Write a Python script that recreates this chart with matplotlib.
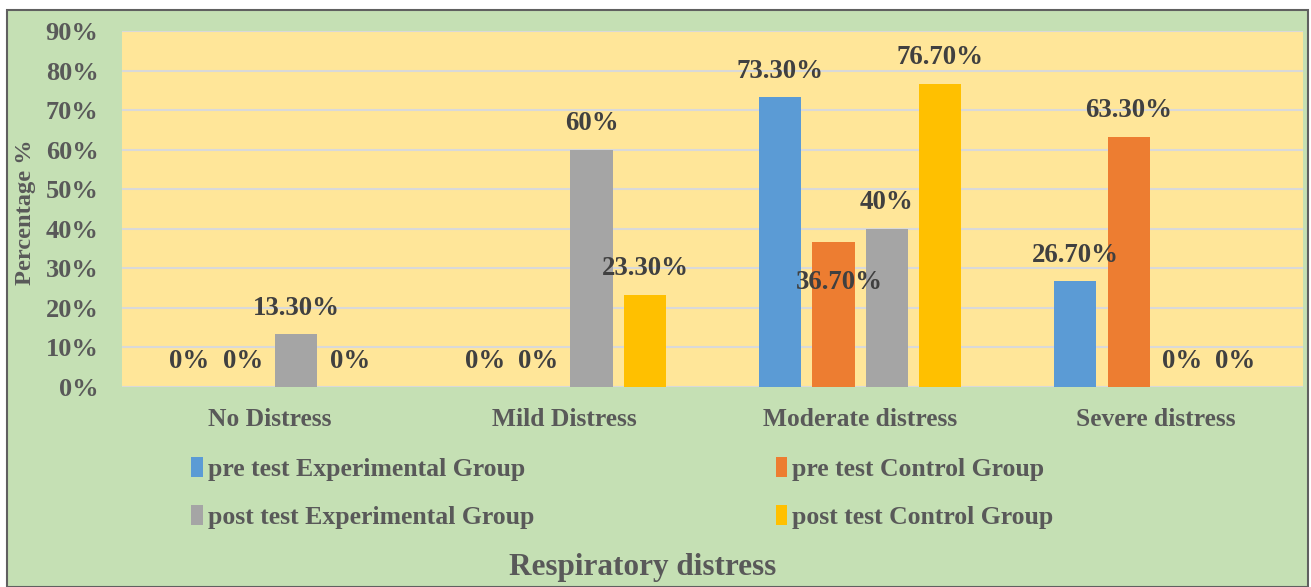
import numpy as np
import matplotlib
matplotlib.use("Agg")
import matplotlib.pyplot as plt
from matplotlib.patches import Rectangle

categories = ["No Distress", "Mild Distress", "Moderate distress", "Severe distress"]
series_names = ["pre test Experimental Group", "pre test Control Group",
                "post test Experimental Group", "post test Control Group"]
pre_exp = [0, 0, 73.3, 26.7]
pre_ctrl = [0, 0, 36.7, 63.3]
post_exp = [13.3, 60, 40, 0]
post_ctrl = [0, 23.3, 76.7, 0]
yticks = [0, 10, 20, 30, 40, 50, 60, 70, 80, 90]

colors = ["#5B9BD5", "#ED7D31", "#A5A5A5", "#FFC000"]
text_gray = "#595959"
label_gray = "#404040"

plt.rcParams['font.family'] = ['Liberation Serif', 'DejaVu Serif']
plt.rcParams['font.weight'] = 'bold'

fig = plt.figure(figsize=(13.11, 5.87), dpi=100, facecolor="white")
# green chart area with dark border
fig.patches.append(Rectangle((7 / 1311, 0), 1301 / 1311, 1 - 10 / 587, transform=fig.transFigure,
                             facecolor="#C5E0B4", edgecolor="#606060", linewidth=1.5, zorder=-10))

ax = fig.add_axes([122 / 1311, 1 - 387 / 587, 1181 / 1311, 356 / 587])
ax.set_zorder(1)
ax.set_facecolor("#FFE699")

x = np.arange(len(categories))
step = 0.181
width = 0.143
all_series = [pre_exp, pre_ctrl, post_exp, post_ctrl]
handles = []
for i, (vals, col, name) in enumerate(zip(all_series, colors, series_names)):
    pos = x + (i - 1.5) * step
    b = ax.bar(pos, vals, width=width, color=col, label=name, zorder=3)
    handles.append(b)
    for p, v in zip(pos, vals):
        txt = f"{v:.0f}%" if float(v).is_integer() else f"{v:.2f}%"
        if name == "pre test Control Group" and v == 36.7:
            # Excel placed this one inside the plot
            ax.text(p + 0.02, 26.3, txt, ha="center", va="center", fontsize=19.4,
                    color=label_gray, zorder=4)
        else:
            ax.annotate(txt, (p, v), xytext=(0, 26), textcoords="offset pixels",
                        ha="center", va="center", fontsize=19.4, color=label_gray, zorder=4)

ax.set_xlim(-0.5, 3.5)
ax.set_ylim(0, 90)
ax.set_yticks(yticks)
ax.set_yticklabels([f"{t}%" for t in yticks], fontsize=19, color=text_gray)
ax.set_xticks(x)
ax.set_xticklabels(categories, fontsize=18.4, color=text_gray)
ax.tick_params(length=0)
ax.tick_params(axis="x", pad=15)
ax.tick_params(axis="y", pad=17)
ax.grid(axis="y", color="#D9D9D9", linewidth=1.5, zorder=0)
ax.set_axisbelow(True)
for s in ax.spines.values():
    s.set_visible(False)

fig.text(26 / 1311, 1 - 212 / 587, "Percentage %", rotation=90, ha="center", va="center",
         fontsize=17.6, color=text_gray)
fig.text(643 / 1311, 1 - 567 / 587, "Respiratory distress", ha="center", va="center",
         fontsize=22.5, color=text_gray)

# legend fills row by row in the reference
order = [0, 2, 1, 3]
fig.legend([handles[k] for k in order], [series_names[k] for k in order],
           loc="upper left", bbox_to_anchor=(168 / 1311, 1 - 434 / 587), ncol=2,
           frameon=False, fontsize=18.5, labelcolor=text_gray, handlelength=0.45,
           handleheight=0.8, handletextpad=0.2, columnspacing=9.4, labelspacing=0.95)

fig.savefig("out.png", dpi=100, facecolor="white")
